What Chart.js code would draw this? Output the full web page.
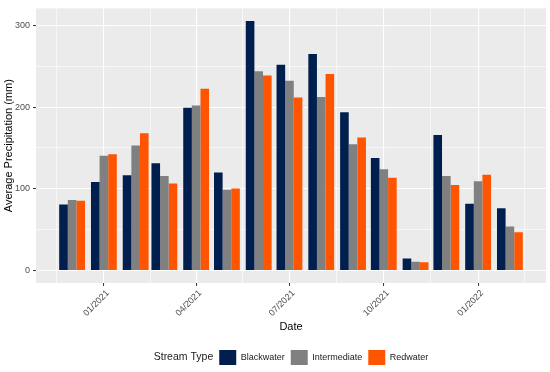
<!DOCTYPE html>
<html>
<head>
<meta charset="utf-8">
<script src="https://cdn.jsdelivr.net/npm/chart.js@4.4.1/dist/chart.umd.min.js"></script>
<style>
  html, body { margin: 0; padding: 0; background: #fff; }
  canvas { display: block; }
</style>
</head>
<body>
<canvas id="chart" width="550" height="372"></canvas>
<script>
// --- DATOS ---
const months = ['2020-12', '2021-01', '2021-02', '2021-03', '2021-04', '2021-05', '2021-06', '2021-07',
                '2021-08', '2021-09', '2021-10', '2021-11', '2021-12', '2022-01', '2022-02'];
const blackwater   = [80.7, 108.4, 116.5, 131.3, 199.2, 120.1, 305.6, 251.8, 265.0, 193.6, 137.7, 14.8, 165.9, 81.6, 76.3];
const intermediate = [86.4, 140.6, 153.0, 115.7, 202.0,  98.8, 243.8, 232.2, 212.4, 154.6, 124.1, 10.8, 115.7, 109.3, 53.9];
const redwater     = [85.5, 142.2, 167.9, 106.4, 222.5, 100.4, 238.6, 211.7, 240.6, 162.7, 113.6, 10.0, 104.8, 117.2, 47.0];
const seriesNames  = ['Blackwater', 'Intermediate', 'Redwater'];
const seriesColors = ['#001F4E', '#808080', '#FF5500'];

const tickMonths = ['2021-01', '2021-04', '2021-07', '2021-10', '2022-01'];
const tickLabels = ['01/2021', '04/2021', '07/2021', '10/2021', '01/2022'];
const yTicks = [0, 100, 200, 300];

// dias desde 2021-01-01
const dayOf = (m) => {
    const [y, mo] = m.split('-').map(Number);
    return (Date.UTC(y, mo - 1, 1) - Date.UTC(2021, 0, 1)) / 86400000;
};

const xs = months.map(dayOf);
const majorX = tickMonths.map(dayOf);
// minor breaks estilo ggplot: puntos medios entre cortes (extendidos un trimestre a cada lado)
const extBreaks = [dayOf('2020-10'), ...majorX, dayOf('2022-04')];
const minorX = extBreaks.slice(1).map((v, i) => (v + extBreaks[i]) / 2);
const labelFor = {};
majorX.forEach((v, i) => { labelFor[v] = tickLabels[i]; });

// limites con expansion del 5%
const halfW = 0.45 * 28;
const lo = xs[0] - halfW, hi = xs[xs.length - 1] + halfW;
const xMin = lo - 0.05 * (hi - lo), xMax = hi + 0.05 * (hi - lo);
const yTop = Math.max(...blackwater, ...intermediate, ...redwater);
const yMin = -0.05 * yTop, yMax = yTop * 1.05;

const FONT = "'Liberation Sans', Arial, sans-serif";

// fondo gris del panel
const panelBg = {
    id: 'panelBg',
    beforeDraw(chart) {
        const { ctx, chartArea: a } = chart;
        ctx.save();
        ctx.fillStyle = '#EBEBEB';
        ctx.fillRect(a.left, a.top, a.right - a.left, a.bottom - a.top);
        ctx.restore();
    }
};

// titulo de leyenda a la izquierda, grupo centrado en el panel
const legendTitle = {
    id: 'legendTitle',
    afterUpdate(chart) {
        const lg = chart.legend;
        if (!lg || !lg.legendHitBoxes.length) return;
        const ctx = chart.ctx;
        ctx.save();
        ctx.font = '10.5px ' + FONT;
        const tw = ctx.measureText('Stream Type').width + 6;
        ctx.restore();
        const dx = tw / 2;
        lg.left += dx;
        lg.right += dx;
        lg.legendHitBoxes.forEach(h => { h.left += dx; });
    },
    afterDraw(chart) {
        const lg = chart.legend;
        if (!lg || !lg.legendHitBoxes.length) return;
        const hb = lg.legendHitBoxes[0];
        const ctx = chart.ctx;
        ctx.save();
        ctx.font = '10.5px ' + FONT;
        ctx.fillStyle = '#1A1A1A';
        ctx.textAlign = 'right';
        ctx.textBaseline = 'middle';
        ctx.fillText('Stream Type', hb.left - 6, hb.top + 7.5);
        ctx.restore();
    }
};

const series = [blackwater, intermediate, redwater];
const datasets = series.map((vals, i) => ({
    label: seriesNames[i],
    data: vals.map((v, j) => ({ x: xs[j], y: v })),
    backgroundColor: seriesColors[i],
    borderWidth: 0,
    categoryPercentage: 0.9,
    barPercentage: 1.0
}));

new Chart(document.getElementById('chart'), {
    type: 'bar',
    data: { datasets },
    plugins: [panelBg, legendTitle],
    options: {
        responsive: false,
        animation: false,
        layout: { padding: { top: 5, right: 4, left: 0, bottom: 0 } },
        plugins: {
            tooltip: { enabled: false },
            legend: {
                position: 'bottom',
                fullSize: false,
                maxHeight: 28,
                labels: {
                    boxWidth: 17,
                    boxHeight: 15,
                    padding: 6,
                    color: '#1A1A1A',
                    font: { family: FONT, size: 9 }
                }
            }
        },
        scales: {
            x: {
                type: 'linear',
                min: xMin,
                max: xMax,
                offset: false,
                border: { display: false },
                grid: {
                    offset: false,
                    color: '#FFFFFF',
                    lineWidth: c => (c.tick && labelFor[c.tick.value] ? 1.1 : 0.6),
                    drawTicks: true,
                    tickLength: 3,
                    tickColor: c => (c.tick && labelFor[c.tick.value] ? '#333333' : 'rgba(0,0,0,0)'),
                    tickWidth: 1
                },
                afterBuildTicks: (scale) => {
                    scale.ticks = [...majorX, ...minorX].sort((a, b) => a - b).map(v => ({ value: v }));
                },
                afterFit: (scale) => { scale.height = 61; },
                ticks: {
                    autoSkip: false,
                    minRotation: 45,
                    maxRotation: 45,
                    padding: 2,
                    labelOffset: 4,
                    color: '#4D4D4D',
                    font: { family: FONT, size: 9 },
                    callback: (v) => labelFor[v] || ''
                },
                title: {
                    display: true,
                    text: 'Date',
                    color: '#000000',
                    font: { family: FONT, size: 11 },
                    padding: { top: 0, bottom: 10 }
                }
            },
            y: {
                min: yMin,
                max: yMax,
                border: { display: false },
                grid: {
                    color: '#FFFFFF',
                    lineWidth: c => (c.tick && c.tick.value % 100 === 0 ? 1.1 : 0.6),
                    drawTicks: true,
                    tickLength: 3,
                    tickColor: c => (c.tick && c.tick.value % 100 === 0 ? '#333333' : 'rgba(0,0,0,0)'),
                    tickWidth: 1
                },
                afterBuildTicks: (scale) => {
                    const t = [];
                    for (let v = 0; v <= yMax; v += 50) t.push({ value: v });
                    scale.ticks = t;
                },
                afterFit: (scale) => { scale.width = 36; },
                ticks: {
                    padding: 3,
                    color: '#4D4D4D',
                    font: { family: FONT, size: 9 },
                    callback: (v) => (yTicks.includes(v) ? String(v) : '')
                },
                title: {
                    display: true,
                    text: 'Average Precipitation (mm)',
                    color: '#000000',
                    font: { family: FONT, size: 11 },
                    padding: { top: 2, bottom: 0 }
                }
            }
        }
    }
});
</script>
</body>
</html>
